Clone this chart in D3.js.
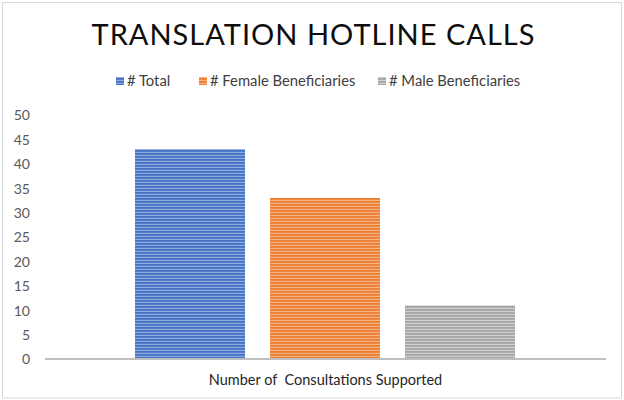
<!DOCTYPE html>
<html><head><meta charset="utf-8">
<script src="https://cdn.jsdelivr.net/npm/d3@7"></script>
<style>body{margin:0;background:#fff;}svg{display:block;}</style>
</head><body>
<script>
const title = "TRANSLATION HOTLINE CALLS";
const category = "Number of  Consultations Supported";
const seriesNames = ["# Total", "# Female Beneficiaries", "# Male Beneficiaries"];
const seriesValues = [43, 33, 11];
const seriesColors = ["#4472C4", "#ED7D31", "#A5A5A5"];
const stripeColors = ["#8FAADC", "#F4B183", "#D0D0D0"];
const yTicks = [0, 5, 10, 15, 20, 25, 30, 35, 40, 45, 50];

const W = 624, H = 400;
const font = "Lato, 'Open Sans', sans-serif";
const svg = d3.select("body").append("svg").attr("width", W).attr("height", H);

svg.append("rect").attr("x", 2.5).attr("y", 2.5).attr("width", 619).attr("height", 395.5)
  .attr("fill", "#fff").attr("stroke", "#d9d9d9").attr("stroke-width", 1);

const defs = svg.append("defs");
seriesColors.forEach((c, i) => {
  const p = defs.append("pattern").attr("id", "stripe" + i).attr("patternUnits", "userSpaceOnUse")
    .attr("width", 10).attr("height", 3);
  p.append("rect").attr("width", 10).attr("height", 3).attr("fill", c);
  p.append("rect").attr("y", 1.8).attr("width", 10).attr("height", 1.2).attr("fill", stripeColors[i]);
});

const x0 = d3.scaleBand().domain([category]).range([45, 606]).paddingInner(0).paddingOuter(0);
const x1 = d3.scaleBand().domain(seriesNames).range([90, 470]).paddingInner(25 / 135).paddingOuter(0);
const y = d3.scaleLinear().domain([0, 50]).range([359, 115]);

// title
svg.append("text").attr("x", 313).attr("y", 45).attr("text-anchor", "middle")
  .attr("font-family", font).attr("font-size", 29).attr("fill", "#0d0d0d")
  .attr("textLength", 443).attr("lengthAdjust", "spacing").text(title);

// legend
const legendX = [116, 199, 378];
seriesNames.forEach((n, i) => {
  const g = svg.append("g").attr("transform", `translate(${legendX[i]},81)`);
  g.append("rect").attr("x", 0).attr("y", -4).attr("width", 8).attr("height", 8).attr("fill", "url(#stripe" + i + ")");
  g.append("text").attr("x", 11).attr("y", 5).attr("font-family", font).attr("font-size", 14.8)
    .attr("fill", "#404040").text(n);
});

// y axis labels
const yAxis = d3.axisLeft(y).tickValues(yTicks).tickSize(0).tickPadding(0);
const ya = svg.append("g").attr("transform", "translate(30,0)").call(yAxis);
ya.select(".domain").remove();
ya.selectAll("text").attr("font-family", font).attr("font-size", 14).attr("fill", "#595959").attr("dy", "0.35em");

// bars
const bars = svg.append("g").attr("transform", `translate(${x0(category)},0)`);
bars.selectAll("rect").data(seriesValues).join("rect")
  .attr("x", (d, i) => x1(seriesNames[i]))
  .attr("y", d => y(d))
  .attr("width", x1.bandwidth())
  .attr("height", d => y(0) - y(d))
  .attr("fill", (d, i) => "url(#stripe" + i + ")");

// x axis
const xAxis = d3.axisBottom(x0).tickSize(0).tickPadding(16);
const xa = svg.append("g").attr("transform", `translate(0,${y(0)})`).call(xAxis);
xa.select(".domain").attr("stroke", "#BFBFBF").attr("stroke-width", 2).attr("d", `M${x0.range()[0]},0H${x0.range()[1]}`);
xa.selectAll("text").attr("font-family", font).attr("font-size", 14.5).attr("fill", "#262626")
  .attr("style", "white-space:pre").attr("xml:space", "preserve");
</script>
</body></html>
